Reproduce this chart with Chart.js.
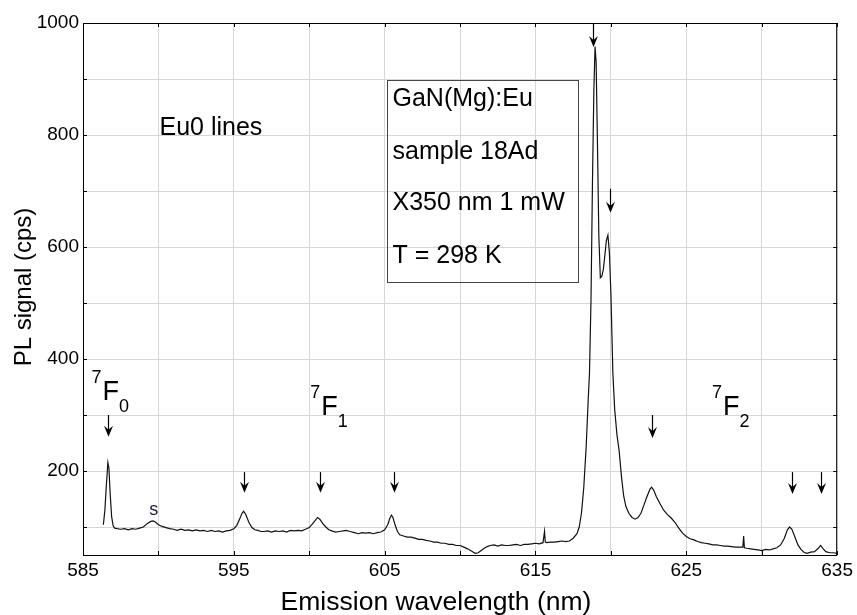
<!DOCTYPE html>
<html>
<head>
<meta charset="utf-8">
<script src="https://cdn.jsdelivr.net/npm/chart.js@4.4.1/dist/chart.umd.min.js"></script>
<style>
  html, body { margin: 0; padding: 0; background: #fff; }
  #wrap { width: 857px; height: 615px; position: relative; }
</style>
</head>
<body>
<div id="wrap"><canvas id="plChart"></canvas></div>
<script>
// Emission spectrum (nm, cps)
const wavelength = [
  586.35, 586.45, 586.55, 586.65, 586.72, 586.8, 586.9, 587.0, 587.1, 587.25,
  587.5, 587.75, 588.0, 588.25, 588.5, 588.75, 589.0, 589.25, 589.5, 589.65,
  589.8, 590.0, 590.25, 590.5, 590.75, 591.0, 591.25, 591.5, 591.75, 592.0,
  592.25, 592.5, 592.75, 593.0, 593.25, 593.5, 593.75, 594.0, 594.25, 594.5,
  594.75, 595.0, 595.2, 595.4, 595.55, 595.65, 595.8, 596.0, 596.2, 596.4,
  596.6, 596.8, 597.0, 597.25, 597.5, 597.75, 598.0, 598.25, 598.5, 598.75,
  599.0, 599.25, 599.5, 599.75, 600.0, 600.2, 600.4, 600.55, 600.7, 600.9,
  601.1, 601.3, 601.5, 601.75, 602.0, 602.25, 602.45, 602.7, 603.0, 603.25,
  603.5, 603.75, 604.0, 604.25, 604.5, 604.75, 605.0, 605.2, 605.35, 605.45,
  605.55, 605.7, 605.85, 606.0, 606.25, 606.5, 606.75, 607.0, 607.25, 607.5,
  607.75, 608.0, 608.25, 608.5, 608.75, 609.0, 609.25, 609.5, 609.75, 610.0,
  610.25, 610.5, 610.75, 611.0, 611.2, 611.4, 611.6, 611.8, 612.0, 612.25,
  612.5, 612.75, 613.0, 613.25, 613.5, 613.75, 614.0, 614.25, 614.5, 614.75,
  615.0, 615.25, 615.5, 615.55, 615.6, 615.65, 615.75, 616.0, 616.25, 616.5,
  616.75, 617.0, 617.25, 617.5, 617.75, 617.9, 618.05, 618.2, 618.36, 618.5,
  618.58, 618.68, 618.78, 618.87, 618.95, 619.02, 619.1, 619.2, 619.3, 619.4,
  619.5, 619.6, 619.7, 619.8, 619.9, 620.0, 620.13, 620.25, 620.4, 620.55,
  620.7, 620.85, 621.0, 621.2, 621.4, 621.6, 621.8, 622.0, 622.2, 622.4,
  622.6, 622.7, 622.85, 623.0, 623.25, 623.5, 623.75, 624.0, 624.25, 624.5,
  624.75, 625.0, 625.25, 625.5, 625.75, 626.0, 626.25, 626.5, 626.75, 627.0,
  627.25, 627.5, 627.75, 628.0, 628.25, 628.5, 628.75, 628.8, 628.85, 629.0,
  629.25, 629.5, 629.75, 630.0, 630.25, 630.5, 630.75, 631.0, 631.25, 631.5,
  631.7, 631.85, 632.0, 632.2, 632.4, 632.6, 632.8, 633.0, 633.25, 633.5,
  633.75, 633.9, 634.05, 634.25, 634.5, 634.75, 635.0
];
const signal = [
  104, 130, 175, 215, 205, 160, 118, 102, 98, 97,
  96, 97, 95, 97, 96, 98, 100, 106, 110, 111,
  109, 104, 101, 99, 97, 96, 94, 96, 94, 95,
  93, 95, 93, 94, 92, 94, 92, 93, 91, 93,
  94, 97, 103, 115, 125, 128, 122, 108, 99, 95,
  94, 92, 92, 93, 91, 93, 92, 93, 91, 94,
  93, 94, 93, 96, 99, 105, 112, 117, 114, 106,
  100, 95, 93, 91, 92, 93, 94, 92, 90, 88,
  90, 89, 90, 88, 90, 91, 95, 104, 116, 121,
  117, 103, 92, 86, 84, 82, 82, 80, 78, 78,
  76, 75, 73, 73, 71, 71, 69, 69, 67, 67,
  64, 61, 57, 53, 54, 58, 62, 65, 67, 68,
  66, 68, 67, 67, 68, 69, 67, 69, 69, 70,
  71, 70, 72, 72, 92, 73, 72, 73, 73, 74,
  75, 74, 75, 80, 88, 100, 125, 170, 243, 330,
  375, 505, 720, 880, 958, 930, 800, 620, 545, 548,
  560, 585, 612, 621, 590, 517, 375, 310, 265, 235,
  190, 155, 136, 124, 117, 114, 117, 125, 140, 155,
  168, 171, 165, 155, 142, 130, 122, 116, 108, 98,
  89, 83, 79, 77, 74, 72, 71, 70, 68, 68,
  67, 66, 66, 65, 64, 64, 64, 84, 63, 62,
  61, 60, 59, 58, 60, 59, 61, 63, 68, 80,
  95, 100, 96, 82, 68, 60, 55, 53, 55, 56,
  62, 67, 62, 56, 54, 54, 53
];

const xTicks = [585, 595, 605, 615, 625, 635];
const yTicks = [200, 400, 600, 800, 1000];
const xTitle = 'Emission wavelength (nm)';
const yTitle = 'PL signal (cps)';

// annotations (data units)
const arrowX   = [586.65, 595.65, 600.7, 605.6, 618.83, 619.95, 622.7, 632.0, 633.9];
const arrowTop = [300, 198, 198, 198, 1000, 704, 300, 198, 198];
const arrowTip = [261, 161, 161, 161, 957, 661, 259, 159, 159];

const termX = [586.3, 600.79, 627.43];
const termY = [327, 300, 300];
const termSub = ['0', '1', '2'];

const boxLines = ['GaN(Mg):Eu', 'sample 18Ad', 'X350 nm 1 mW', 'T = 298 K'];
const boxLineY = [852, 757, 666, 571];
const boxEdges = { x0: 605.13, x1: 617.83, y0: 898, y1: 537 };

const FONT = '"Liberation Sans", Arial, Helvetica, sans-serif';

const annotations = {
  id: 'annotations',
  afterDatasetsDraw(chart) {
    const { ctx, chartArea: a, scales: { x, y } } = chart;
    ctx.save();

    // frame + inward ticks
    ctx.strokeStyle = '#000';
    ctx.lineWidth = 1;
    ctx.strokeRect(a.left + 0.5, a.top + 0.5, a.right - a.left - 1, a.bottom - a.top);
    ctx.beginPath();
    x.ticks.forEach(t => {
      const px = Math.round(x.getPixelForValue(t.value)) + 0.5;
      ctx.moveTo(px, a.bottom); ctx.lineTo(px, a.bottom - 4);
      ctx.moveTo(px, a.top); ctx.lineTo(px, a.top + 4);
    });
    y.ticks.forEach(t => {
      if (t.value % 100 !== 0) return;
      const py = Math.round(y.getPixelForValue(t.value)) + 0.5;
      ctx.moveTo(a.left, py); ctx.lineTo(a.left + 4, py);
      ctx.moveTo(a.right, py); ctx.lineTo(a.right - 4, py);
    });
    ctx.stroke();

    // arrows
    ctx.fillStyle = '#000';
    arrowX.forEach((v, i) => {
      const px = Math.round(x.getPixelForValue(v)) + 0.5;
      const top = y.getPixelForValue(arrowTop[i]);
      const tip = y.getPixelForValue(arrowTip[i]);
      ctx.beginPath();
      ctx.lineWidth = 1.2;
      ctx.moveTo(px, top); ctx.lineTo(px, tip - 4);
      ctx.stroke();
      ctx.beginPath();
      ctx.moveTo(px, tip);
      ctx.lineTo(px - 4.5, tip - 11);
      ctx.lineTo(px, tip - 7);
      ctx.lineTo(px + 4.5, tip - 11);
      ctx.closePath();
      ctx.fill();
    });

    ctx.textBaseline = 'alphabetic';
    ctx.textAlign = 'left';

    // Eu0 lines
    ctx.font = '25px ' + FONT;
    ctx.fillText('Eu0 lines', x.getPixelForValue(590.07), y.getPixelForValue(800));

    // term symbols 7F_J
    termX.forEach((v, i) => {
      const px = x.getPixelForValue(v);
      const py = y.getPixelForValue(termY[i]);
      ctx.font = '27px ' + FONT;
      const fw = ctx.measureText('F').width;
      ctx.fillText('F', px, py);
      ctx.font = '18px ' + FONT;
      ctx.textAlign = 'right';
      ctx.fillText('7', px - 1, py - 17);
      ctx.textAlign = 'left';
      ctx.fillText(termSub[i], px + fw, py + 12);
    });

    // s label
    ctx.font = '18px ' + FONT;
    ctx.fillStyle = '#1a1a3a';
    ctx.fillText('s', x.getPixelForValue(589.4), y.getPixelForValue(121));

    // info box
    const bx0 = Math.round(x.getPixelForValue(boxEdges.x0)) + 0.5;
    const bx1 = Math.round(x.getPixelForValue(boxEdges.x1)) + 0.5;
    const by0 = Math.round(y.getPixelForValue(boxEdges.y0)) + 0.5;
    const by1 = Math.round(y.getPixelForValue(boxEdges.y1)) + 0.5;
    ctx.strokeStyle = '#444';
    ctx.lineWidth = 1;
    ctx.strokeRect(bx0, by0, bx1 - bx0, by1 - by0);
    ctx.fillStyle = '#000';
    ctx.font = '25px ' + FONT;
    boxLines.forEach((t, i) => {
      ctx.fillText(t, bx0 + 5, y.getPixelForValue(boxLineY[i]));
    });

    // axis titles
    ctx.font = '26.5px ' + FONT;
    ctx.textAlign = 'center';
    ctx.fillText(xTitle, 436, 610);
    ctx.save();
    ctx.translate(31, 287);
    ctx.rotate(-Math.PI / 2);
    ctx.font = '24px ' + FONT;
    ctx.fillText(yTitle, 0, 0);
    ctx.restore();

    ctx.restore();
  }
};

new Chart(document.getElementById('plChart'), {
  type: 'line',
  data: {
    datasets: [{
      data: wavelength.map((w, i) => ({ x: w, y: signal[i] })),
      borderColor: '#111',
      borderWidth: 1.2,
      pointRadius: 0,
      tension: 0,
      fill: false
    }]
  },
  options: {
    responsive: true,
    maintainAspectRatio: false,
    animation: false,
    events: [],
    layout: { padding: { top: 23, right: 15, left: 0, bottom: 0 } },
    plugins: {
      legend: { display: false },
      tooltip: { enabled: false }
    },
    scales: {
      x: {
        type: 'linear',
        min: 585,
        max: 635,
        afterFit: s => { s.height = 60; },
        grid: { color: '#d6d6d6', lineWidth: 1, drawTicks: false },
        border: { display: false },
        ticks: {
          stepSize: 5,
          autoSkip: false,
          maxRotation: 0,
          padding: 4,
          color: '#000',
          font: { family: FONT, size: 19 },
          callback: v => xTicks.includes(v) ? String(v) : ''
        },
        title: { display: false }
      },
      y: {
        min: 50,
        max: 1000,
        afterFit: s => { s.width = 83; },
        grid: { color: '#d6d6d6', lineWidth: 1, drawTicks: false },
        border: { display: false },
        ticks: {
          stepSize: 100,
          autoSkip: false,
          padding: 4,
          color: '#000',
          font: { family: FONT, size: 19 },
          callback: v => yTicks.includes(v) ? String(v) : ''
        },
        title: { display: false }
      }
    }
  },
  plugins: [annotations]
});
</script>
</body>
</html>
